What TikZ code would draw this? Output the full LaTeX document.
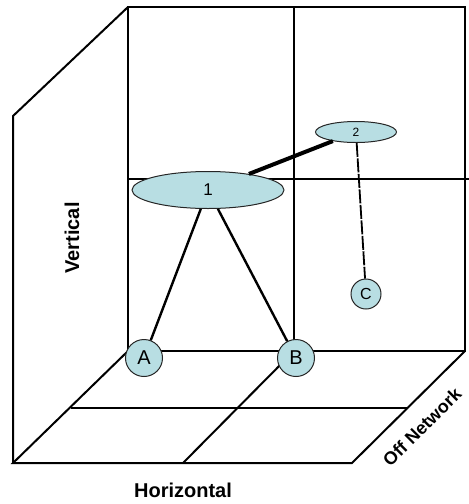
\documentclass[tikz,border=0pt]{standalone}
\usepackage{fontspec}
\setmainfont{Liberation Sans}
\usetikzlibrary{shapes.geometric}
\definecolor{nodefill}{RGB}{184,222,227}
\tikzset{
  wall/.style={line width=2pt, line join=miter},
  gridline/.style={line width=1.3pt},
  oval/.style={ellipse, draw=black!85, line width=1pt, fill=nodefill, inner sep=0pt},
  disc/.style={circle, draw=black!85, line width=1pt, fill=nodefill, inner sep=0pt},
  tie/.style={line width=2.4pt},
  axislabel/.style={font=\bfseries\fontsize{20}{20}\selectfont}
}
\begin{document}
\begin{tikzpicture}[x=1pt,y=-1pt]
\useasboundingbox (0,0) rectangle (469,504);
% back wall
\draw[wall] (128,351) -- (128,7) -- (465,7) -- (465,351) -- cycle;
\draw[wall] (294,7) -- (294,351);
\draw[gridline] (128,179) -- (469,179);
% left wall
\draw[wall] (128,7) -- (13,116) -- (13,463);
% floor
\draw[wall] (128,351) -- (13,463) -- (352,463) -- (465,351);
\draw[wall] (294,351) -- (183,463);
\draw[gridline] (71,408) -- (408,408);
% nodes
\node[oval, minimum width=152pt, minimum height=37pt, font=\fontsize{17}{17}\selectfont] (n1) at (208,190) {1};
\node[oval, minimum width=81pt, minimum height=21pt, font=\fontsize{12}{12}\selectfont] (n2) at (356,132) {2};
\node[disc, minimum size=37pt, font=\fontsize{20}{20}\selectfont] (A) at (144,358) {A};
\node[disc, minimum size=37pt, font=\fontsize{20}{20}\selectfont] (B) at (296,358) {B};
\node[disc, minimum size=30pt, font=\fontsize{16}{16}\selectfont] (C) at (366,294) {C};
% connectors
\draw[tie] (n1) -- (A);
\draw[tie] (n1) -- (B);
\draw[line width=4pt] (n1) -- (n2);
\draw[line width=1.8pt, dash pattern=on 14pt off 1.5pt] (n2) -- (C);
% axis labels
\node[axislabel, rotate=90] (vlab) at (72,238) {Vertical};
\node[axislabel] (hlab) at (183,490) {Horizontal};
\node[axislabel, font=\bfseries\fontsize{18}{18}\selectfont, rotate=45] (olab) at (422,427) {Off Network};
\end{tikzpicture}
\end{document}
